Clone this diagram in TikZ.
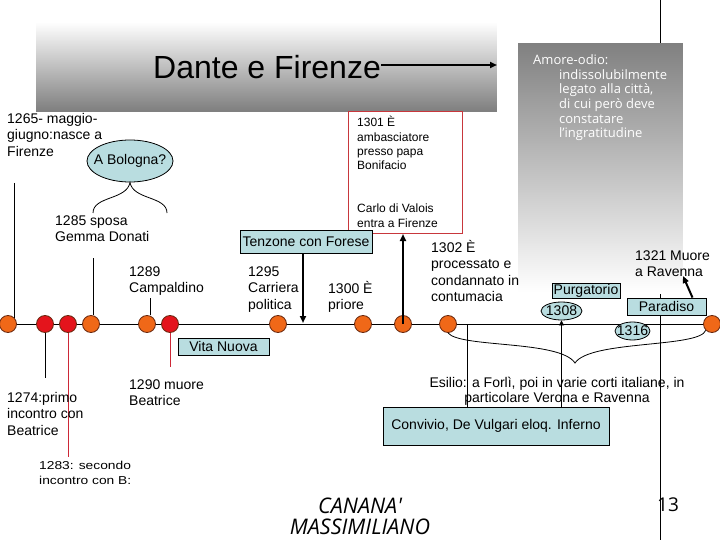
\documentclass[tikz,border=0pt]{standalone}
\usepackage{fontspec}
\setmainfont{Liberation Sans}
\newfontfamily\comicf{Open Sans}
\usetikzlibrary{arrows.meta,shapes.geometric}
\definecolor{boxblue}{RGB}{185,221,224}
\definecolor{dotorange}{RGB}{240,104,24}
\definecolor{dotred}{RGB}{228,20,28}
\definecolor{dotedge}{RGB}{105,40,15}
\definecolor{redframe}{RGB}{200,55,60}
\definecolor{redline}{RGB}{205,40,55}
\definecolor{midgray}{RGB}{128,128,128}
\newcommand{\fstrut}{\rule{0pt}{1em}}
\begin{document}
\begin{tikzpicture}[x=1pt,y=-1pt,
  txt/.style={inner sep=0pt, anchor=north west, align=left, font=\fontsize{14}{16.5}\selectfont},
  smalltxt/.style={inner sep=0pt, anchor=north west, align=left, font=\fontsize{12}{14.4}\selectfont},
  bluebox/.style={draw=black, line width=0.8pt, fill=boxblue, inner sep=0pt, font=\fontsize{14}{16}\selectfont},
  blueell/.style={ellipse, draw=black, line width=0.8pt, fill=boxblue, inner sep=0pt, font=\fontsize{14}{16}\selectfont},
  odot/.style={circle, draw=dotedge, line width=0.8pt, fill=dotorange, minimum size=17pt, inner sep=0pt},
  rdot/.style={circle, draw=dotedge, line width=0.8pt, fill=dotred, minimum size=17pt, inner sep=0pt},
  ln/.style={line width=0.8pt, draw=black},
  rln/.style={line width=0.8pt, draw=redline},
  thickarrow/.style={line width=2pt, draw=black, -{Triangle[length=7pt,width=6pt]}},
  thinarrow/.style={line width=0.8pt, draw=black, -{Triangle[length=5pt,width=5pt]}},
]
\useasboundingbox (0,0) rectangle (720,540);
\fill[white] (0,0) rectangle (720,540);

% title band: white at top, gray at bottom
\foreach \i in {0,...,88} {
  \pgfmathsetmacro\p{100*\i/88}
  \fill[midgray!\p!white] (36,22+\i) rectangle (497,23.6+\i);
}

% long vertical line on the right
\coordinate (vtop) at (660,0);
\coordinate (vbot) at (660,540);
\draw[ln] (vtop) -- (vbot);

% gray box: gray at top, white at bottom
\foreach \i in {0,...,249} {
  \pgfmathsetmacro\p{100*(1-\i/249)}
  \fill[midgray!\p!white] (518,43+\i) rectangle (683,44.6+\i);
}
\node[inner sep=0pt, anchor=north west, align=left, text=white,
      font=\comicf\fontsize{13}{14.7}\selectfont] (amore) at (533,51.3)
  {\fstrut Amore-odio:\\\hspace*{26pt}indissolubilmente\\\hspace*{26pt}legato alla città,\\\hspace*{26pt}di cui però deve\\\hspace*{26pt}constatare\\\hspace*{26pt}l’ingratitudine};

% red framed box
\node[draw=redframe, line width=1pt, fill=white, anchor=north west, inner sep=0pt,
      minimum width=114pt, minimum height=122pt] (rbox) at (348,111) {};
\node[smalltxt] (t1301) at (357,114.6) {\fstrut 1301 È\\ambasciatore\\presso papa\\Bonifacio};
\node[smalltxt] (tcarlo) at (357,200.6) {\fstrut Carlo di Valois\\entra a Firenze};

% title
\node[inner sep=0pt, anchor=base west, font=\fontsize{32}{36}\selectfont] (title) at (153,79) {Dante e Firenze};
\coordinate (tarr) at (497,65);
\draw[thickarrow] (title.east |- tarr) -- (tarr);

% timeline
\coordinate (tl0) at (0,324);
\coordinate (tl1) at (720,324);
\draw[ln] (tl0) -- (tl1);

% dots
\node[odot] (d1) at (8,324) {};
\node[rdot] (d2) at (45,324) {};
\node[rdot] (d3) at (68,324) {};
\node[odot] (d4) at (91,324) {};
\node[odot] (d5) at (147,324) {};
\node[rdot] (d6) at (170,324) {};
\node[odot] (d7) at (278,324) {};
\node[odot] (d8) at (363,324) {};
\node[odot] (d9) at (403,324) {};
\node[odot] (d10) at (448,324) {};
\node[odot] (d11) at (712,324) {};

% blue boxes
\node[bluebox, minimum width=132pt, minimum height=23pt] (tenz) at (306,241.5) {Tenzone con Forese};
\node[bluebox, minimum width=91pt, minimum height=17pt] (vita) at (223.5,346.5) {Vita Nuova};
\node[bluebox, minimum width=226pt, minimum height=38pt] (conv) at (496,426) {Convivio, De Vulgari eloq. Inferno};
\node[bluebox, minimum width=68pt, minimum height=15pt] (purg) at (586,290.5) {Purgatorio};
\node[bluebox, minimum width=79pt, minimum height=17pt] (para) at (666.5,306.5) {Paradiso};
\node[blueell, minimum width=86pt, minimum height=42pt] (bol) at (130,161) {\makebox[0pt]{A Bologna?}};
\node[blueell, minimum width=41pt, minimum height=18pt] (e1308) at (561.5,311) {\makebox[0pt]{1308}};
\node[blueell, minimum width=35pt, minimum height=18pt] (e1316) at (632.5,331) {\makebox[0pt]{1316}};

% connectors from labels to dots
\coordinate (c1) at (14,183);
\draw[ln] (c1) -- (c1 |- d1.north east);
\coordinate (c4) at (93,258);
\draw[ln] (c4) -- (c4 |- d4.north);
\coordinate (c5) at (150,298);
\draw[ln] (c5) -- (c5 |- d5.north);
\coordinate (c2) at (45,378);
\draw[ln] (d2.south) -- (c2);
\coordinate (c3) at (69,457);
\draw[rln] (d3.south) -- (c3 -| d3.south);
\coordinate (c6) at (170,367);
\draw[rln] (d6.south) -- (c6);

% braces
\draw[ln] (93,213) .. controls (93,196) and (127,200) .. (bol.south) .. controls (133,200) and (167,196) .. (167,213);
\draw[ln] (d10.south) .. controls (460,348) and (560,340) .. (575,363) .. controls (590,340) and (700,348) .. (d11.south west);

% lines into Convivio box
\coordinate (c467) at (467,324);
\draw[ln] (c467) -- (c467 |- conv.north);
\draw[thinarrow] (conv.north -| e1308.south) -- (e1308.south);

% arrows
\coordinate (tenzend) at (303,323);
\draw[thickarrow] (tenz.south -| tenzend) -- (tenzend);
\draw[thickarrow] (d9.center) -- (d9.center |- rbox.south);
\coordinate (mu) at (683,276);
\draw[thickarrow] ([xshift=26pt]para.north) -- (mu);

% texts
\node[txt] (t1265) at (7,109) {\fstrut 1265- maggio-\\giugno:nasce a\\Firenze};
\node[txt] (t1285) at (55,211) {\fstrut 1285 sposa\\Gemma Donati};
\node[txt] (t1289) at (129,262) {\fstrut 1289\\Campaldino};
\node[txt] (t1295) at (248,262) {\fstrut 1295\\Carriera\\politica};
\node[txt] (t1300) at (328,279) {\fstrut 1300 È\\priore};
\node[txt] (t1302) at (431,238) {\fstrut 1302 È\\processato e\\condannato in\\contumacia};
\node[txt] (t1321) at (635,246) {\fstrut 1321 Muore\\a Ravenna};
\node[txt] (t1274) at (7,388) {\fstrut 1274:primo\\incontro con\\Beatrice};
\node[txt] (t1290) at (129,375) {\fstrut 1290 muore\\Beatrice};
\node[txt, anchor=north, align=center, font=\fontsize{14}{15.5}\selectfont] (esil) at (557,373)
  {\fstrut Esilio: a Forlì, poi in varie corti italiane, in\\particolare Verona e Ravenna};
\node[inner sep=0pt, anchor=north west, align=left, font=\fontsize{11.5}{15}\selectfont] (t1283) at (39,457.7)
  {\fstrut\scalebox{1.2}[1]{1283: secondo}\\\scalebox{1.2}[1]{incontro con B:}};
\node[inner sep=0pt, anchor=north, align=center, font=\comicf\itshape\fontsize{21.5}{21}\selectfont] (auth) at (360,491.5)
  {\fstrut CANANA\textquotesingle\\MASSIMILIANO};
\node[inner sep=0pt, anchor=north west, font=\comicf\fontsize{19}{20}\selectfont] (pg) at (657,492.6) {\fstrut 13};
\end{tikzpicture}
\end{document}
